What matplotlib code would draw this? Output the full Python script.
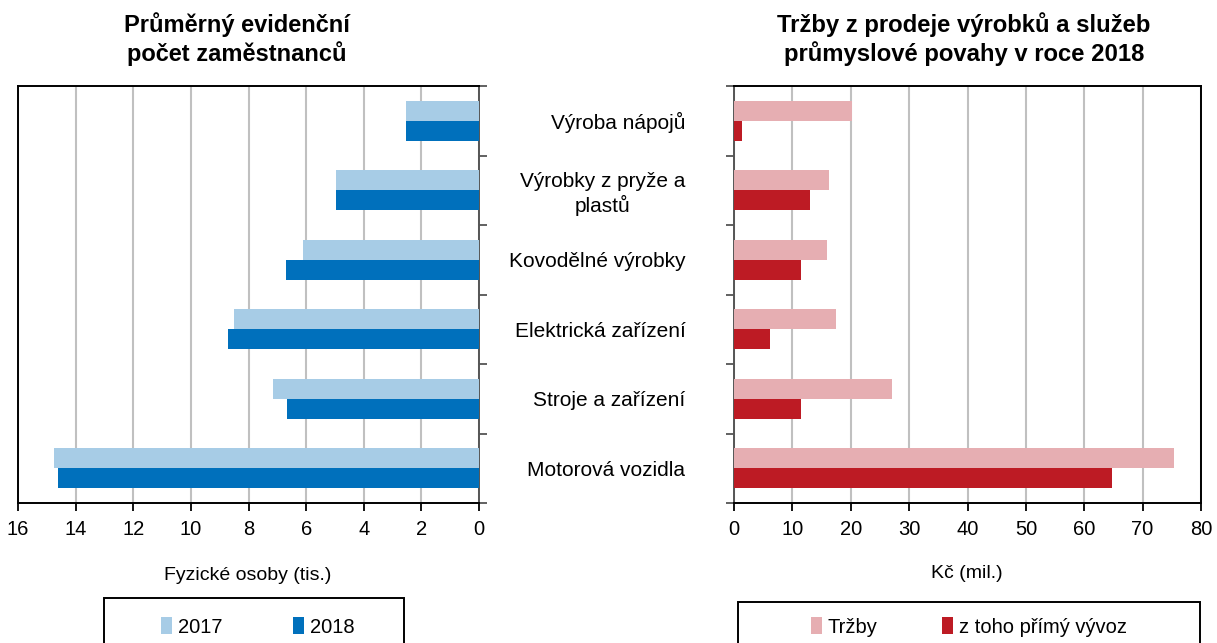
import numpy as np
import matplotlib
matplotlib.use("Agg")
import matplotlib.pyplot as plt
from matplotlib.patches import Rectangle

categories = ["Výroba nápojů", "Výrobky z pryže a\nplastů", "Kovodělné výrobky",
              "Elektrická zařízení", "Stroje a zařízení", "Motorová vozidla"]
employees_2017 = [2.55, 4.95, 6.1, 8.5, 7.15, 14.75]
employees_2018 = [2.55, 4.95, 6.7, 8.7, 6.65, 14.6]
sales_total = [20.2, 16.2, 15.9, 17.5, 27.1, 75.3]
sales_export = [1.4, 13.1, 11.4, 6.2, 11.4, 64.7]

plt.rcParams["font.family"] = ["Liberation Sans", "DejaVu Sans"]
plt.rcParams["font.size"] = 14

W, H = 1217, 643
fig = plt.figure(figsize=(W / 100, H / 100), dpi=100)

def fx(px):
    return px / W

def fy(py):
    return 1 - py / H

ax_l = fig.add_axes([fx(18), fy(503), fx(479) - fx(18), fy(86) - fy(503)])
ax_r = fig.add_axes([fx(734), fy(503), fx(1201) - fx(734), fy(86) - fy(503)])

y = np.arange(len(categories))
h = 0.286
ax_l.barh(y - h / 2, employees_2017, height=h, color="#a7cce6", label="2017", zorder=3)
ax_l.barh(y + h / 2, employees_2018, height=h, color="#0070bc", label="2018", zorder=3)
ax_r.barh(y - h / 2, sales_total, height=h, color="#e6aeb2", label="Tržby", zorder=3)
ax_r.barh(y + h / 2, sales_export, height=h, color="#bd1b24", label="z toho přímý vývoz", zorder=3)

ax_l.set_xlim(16, 0)
ax_l.set_xticks(np.arange(0, 17, 2))
ax_r.set_xlim(0, 80)
ax_r.set_xticks(np.arange(0, 81, 10))

for ax in (ax_l, ax_r):
    ax.set_ylim(len(categories) - 0.5, -0.5)
    ax.grid(axis="x", color="#c0c0c0", linewidth=1.5, zorder=0)
    ax.tick_params(axis="x", direction="out", length=6, width=1.3, pad=6, labelsize=14.5)
    ax.set_yticks(np.arange(len(categories) + 1) - 0.5, minor=True)
    for s in ax.spines.values():
        s.set_linewidth(1.4)
        s.set_color("black")

ax_l.yaxis.tick_right()
ax_l.set_yticks([])
ax_l.tick_params(axis="y", which="minor", direction="out", length=6, width=1.3, color="#555555")
ax_l.spines["right"].set_color("#555555")

ax_r.set_yticks(y)
ax_r.set_yticklabels(categories, ha="right", multialignment="center", fontsize=15)
ax_r.tick_params(axis="y", which="major", length=0, pad=35)
ax_r.tick_params(axis="y", which="minor", direction="out", length=6, width=1.3, color="#555555")
ax_r.spines["left"].set_color("#555555")

fig.text(fx(237), fy(39), "Průměrný evidenční\npočet zaměstnanců", ha="center", va="center",
         fontsize=17, fontweight="bold", linespacing=1.2)
fig.text(fx(964), fy(39), "Tržby z prodeje výrobků a služeb\nprůmyslové povahy v roce 2018", ha="center",
         va="center", fontsize=17.2, fontweight="bold", linespacing=1.2)
fig.text(fx(248), fy(576), "Fyzické osoby (tis.)", ha="center", va="center", fontsize=14)
fig.text(fx(967), fy(574), "Kč (mil.)", ha="center", va="center", fontsize=14)

fig.patches.append(Rectangle((fx(104), fy(660)), fx(404) - fx(104), fy(598) - fy(660),
                             transform=fig.transFigure, fill=False, edgecolor="black", linewidth=1.4))
fig.patches.append(Rectangle((fx(738), fy(660)), fx(1200) - fx(738), fy(602) - fy(660),
                             transform=fig.transFigure, fill=False, edgecolor="black", linewidth=1.4))

leg_kw = dict(frameon=False, ncol=2, handlelength=0.55, handleheight=0.9, handletextpad=0.3,
              fontsize=14.5, loc="center", borderaxespad=0)
fig.legend(*ax_l.get_legend_handles_labels(), bbox_to_anchor=(fx(258), fy(627)), columnspacing=3.5, **leg_kw)
fig.legend(*ax_r.get_legend_handles_labels(), bbox_to_anchor=(fx(969), fy(627)), columnspacing=3.2, **leg_kw)

fig.savefig("out.png", dpi=100)
